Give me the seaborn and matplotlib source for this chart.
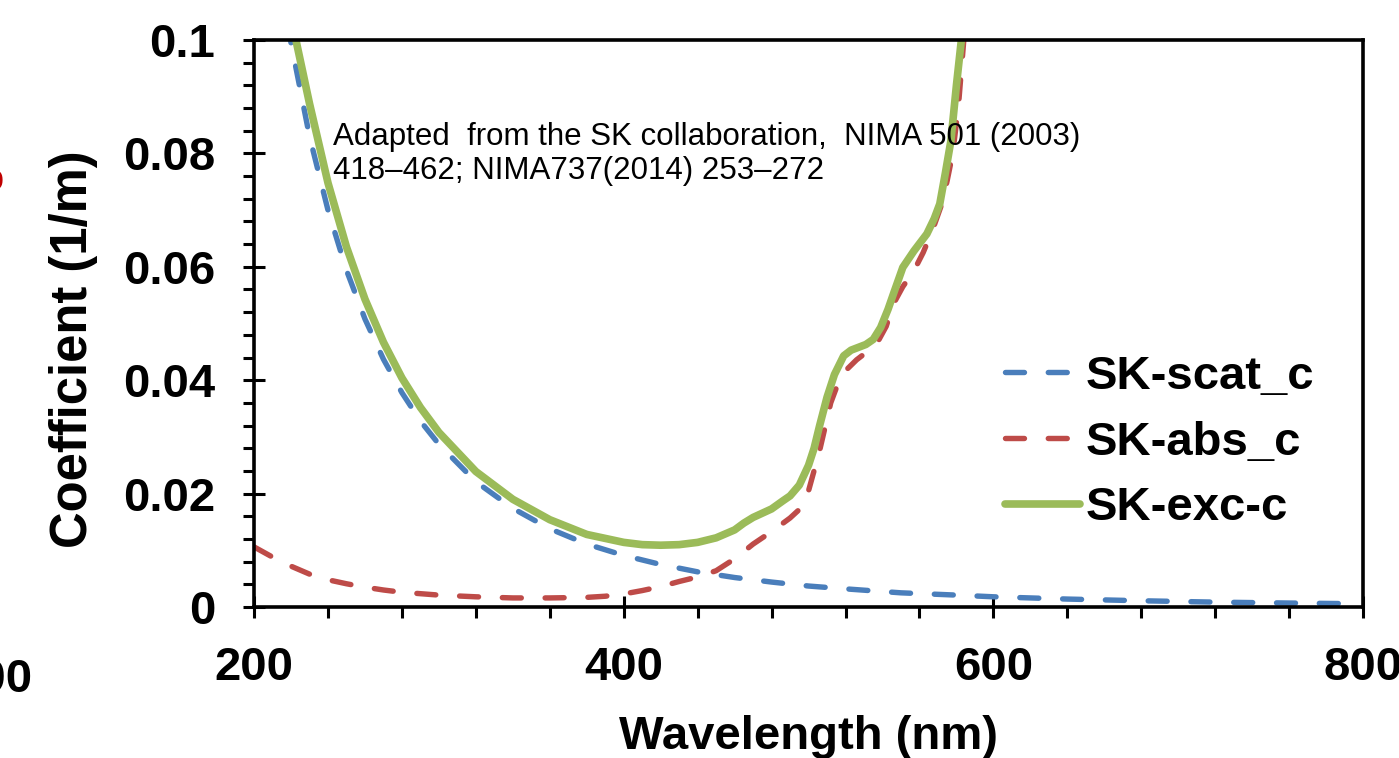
import matplotlib
matplotlib.use("Agg")
import matplotlib.pyplot as plt
from matplotlib.ticker import MultipleLocator
import pandas as pd
import seaborn as sns

# Scattering coefficient (1/m) vs wavelength (nm)
scat_nm = [218, 230, 240, 250, 260, 270, 280, 290, 300, 320, 340, 360, 380, 400,
           420, 440, 460, 480, 500, 520, 550, 580, 600, 640, 680, 720, 760, 790]
scat_val = [0.1028, 0.0830, 0.0700, 0.0594, 0.0508, 0.0437, 0.0378, 0.0328, 0.0287,
            0.0221, 0.0174, 0.0138, 0.0111, 0.0091, 0.0075, 0.0062, 0.0052, 0.0044,
            0.0037, 0.0032, 0.0025, 0.0021, 0.0018, 0.0014, 0.0011, 0.00086,
            0.0007, 0.0006]

# Absorption coefficient (1/m)
abs_nm = [200, 210, 220, 230, 240, 250, 260, 270, 280, 300, 320, 340, 360, 380, 390,
          400, 410, 420, 430, 440, 450, 460, 470, 480, 490, 495, 500, 506, 512, 516,
          521, 526, 530, 537, 542, 546, 551, 557, 562, 567, 572, 575, 578, 581, 584]
abs_val = [0.0106, 0.0088, 0.0072, 0.0058, 0.0048, 0.0041, 0.0035, 0.0030, 0.0026,
           0.0021, 0.0018, 0.0016, 0.0016, 0.0017, 0.0019, 0.0023, 0.0029, 0.0036,
           0.0045, 0.0053, 0.0064, 0.0085, 0.0111, 0.0133, 0.0157, 0.0172, 0.0205,
           0.0276, 0.0360, 0.0395, 0.0420, 0.0436, 0.0446, 0.0465, 0.0495, 0.0535,
           0.0565, 0.0593, 0.0625, 0.0664, 0.0710, 0.0752, 0.0800, 0.0880, 0.1000]

# Extinction coefficient (1/m)
exc_nm = [222, 230, 240, 250, 260, 270, 280, 290, 300, 320, 340, 360, 380, 400, 410,
          420, 430, 440, 450, 460, 465, 470, 480, 486, 490, 495, 500, 503, 506, 510,
          514, 519, 523, 527, 531, 535, 539, 543, 546, 551, 557, 564, 568, 571, 574,
          577, 580, 583]
exc_val = [0.1010, 0.0888, 0.0748, 0.0635, 0.0543, 0.0467, 0.0404, 0.0352, 0.0308,
           0.0239, 0.0190, 0.0154, 0.0128, 0.0114, 0.0110, 0.0109, 0.0110, 0.0114,
           0.0122, 0.0136, 0.0148, 0.0158, 0.0173, 0.0187, 0.0196, 0.0215, 0.0250,
           0.0280, 0.0320, 0.0370, 0.0410, 0.0443, 0.0453, 0.0458, 0.0463, 0.0472,
           0.0493, 0.0525, 0.0553, 0.0599, 0.0628, 0.0658, 0.0685, 0.0711, 0.0765,
           0.0822, 0.0920, 0.1010]

series_names = ["SK-scat_c", "SK-abs_c", "SK-exc-c"]
series_colors = ["#4A7EBB", "#BE4B48", "#9BBB59"]

x_ticks = [200, 400, 600, 800]
y_ticks = [0, 0.02, 0.04, 0.06, 0.08, 0.1]
y_tick_labels = ["0", "0.02", "0.04", "0.06", "0.08", "0.1"]

note = ("Adapted  from the SK collaboration,  NIMA 501 (2003)\n"
        "418\u2013462; NIMA737(2014) 253\u2013272")

sns.set_theme(style="white")
plt.rcParams["font.family"] = ["Liberation Sans", "DejaVu Sans"]
plt.rcParams["text.color"] = "black"
plt.rcParams["axes.labelcolor"] = "black"

fig = plt.figure(figsize=(13.99, 7.58), dpi=100)
ax = fig.add_axes([0.1816, 0.1992, 0.9743 - 0.1816, 0.9472 - 0.1992])

df_scat = pd.DataFrame({"nm": scat_nm, "val": scat_val})
df_abs = pd.DataFrame({"nm": abs_nm, "val": abs_val})
df_exc = pd.DataFrame({"nm": exc_nm, "val": exc_val})

dash_kw = dict(linewidth=3.9, dash_capstyle="round", solid_capstyle="round")
sns.lineplot(data=df_scat, x="nm", y="val", ax=ax, color=series_colors[0],
             label=series_names[0], sort=False, **dash_kw)
sns.lineplot(data=df_abs, x="nm", y="val", ax=ax, color=series_colors[1],
             label=series_names[1], sort=False, **dash_kw)
sns.lineplot(data=df_exc, x="nm", y="val", ax=ax, color=series_colors[2],
             label=series_names[2], sort=False, linewidth=5.5,
             solid_capstyle="round", solid_joinstyle="round")
for ln in ax.lines[:2]:
    ln.set_dashes((3.5, 4.4))

ax.set_xlim(200, 800)
ax.set_ylim(0, 0.1)
ax.set_xticks(x_ticks)
ax.set_xticklabels([str(v) for v in x_ticks])
ax.set_yticks(y_ticks)
ax.set_yticklabels(y_tick_labels)
ax.xaxis.set_minor_locator(MultipleLocator(40))
ax.yaxis.set_minor_locator(MultipleLocator(0.004))

for side in ["left", "right", "top", "bottom"]:
    ax.spines[side].set_visible(True)
    ax.spines[side].set_color("black")
    ax.spines[side].set_linewidth(2.6)

ax.tick_params(which="major", direction="inout", length=16, width=2.2,
               color="black", labelsize=34, labelcolor="black", pad=20,
               bottom=True, left=True, top=False, right=False)
ax.tick_params(which="minor", direction="out", length=8, width=2.2,
               color="black", bottom=True, left=True, top=False, right=False)
for lbl in ax.get_xticklabels() + ax.get_yticklabels():
    lbl.set_fontweight("bold")

ax.set_xlabel("Wavelength (nm)", fontsize=34, fontweight="bold", labelpad=18,
              color="black")
ax.set_ylabel("Coefficient (1/m)", fontsize=36.5, fontweight="bold",
              color="black")
ax.yaxis.set_label_coords(-0.141, 0.455)

ax.text(0.0715, 0.0742, note, fontsize=22.5, color="black", ha="left",
        va="bottom", linespacing=1.2, transform=ax.get_yaxis_transform())

leg = ax.legend(loc="center left", bbox_to_anchor=(0.66, 0.29), frameon=False,
                prop={"family": ["Liberation Sans"], "weight": "bold", "size": 34},
                handlelength=1.6, handletextpad=0.1, labelspacing=0.46,
                borderaxespad=0)
for t in leg.get_texts():
    t.set_color("black")
for h in leg.get_lines():
    h.set_solid_capstyle("round")
    h.set_dash_capstyle("round")

# Edge fragments of neighbouring panels
fig.text(-0.005, 0.103, "800", fontsize=34, fontweight="bold", color="black",
         ha="center", va="center")
fig.text(0.0025, 0.762, "o", fontsize=26, color="#C00000", ha="right",
         va="center")

fig.savefig("out.png", dpi=100)
